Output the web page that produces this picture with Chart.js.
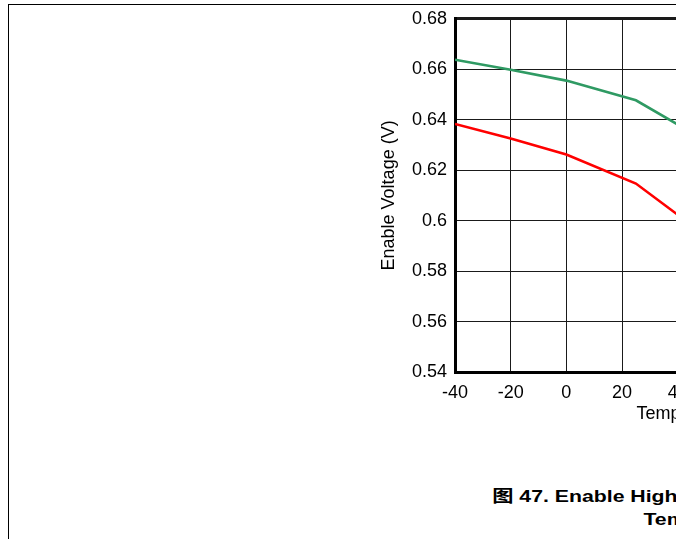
<!DOCTYPE html>
<html><head><meta charset="utf-8">
<script src="https://cdn.jsdelivr.net/npm/chart.js@4/dist/chart.umd.min.js"></script>
<style>
html,body{margin:0;padding:0;width:676px;height:539px;overflow:hidden;background:#fff;}
#frame{position:absolute;left:8px;top:4px;width:1200px;height:700px;border-top:1px solid #000;border-left:1px solid #000;}
#wrap{position:absolute;left:0;top:0;width:1000px;height:440px;}
#cap{position:absolute;left:407px;top:485px;width:600px;text-align:center;font:bold 17px/23px "Liberation Sans",Arial,"Noto Sans CJK SC",sans-serif;color:#000;transform:scaleX(1.25);transform-origin:50% 0;white-space:nowrap;}
#cap1{position:relative;left:-10px;}
</style></head><body>
<div id="frame"></div>
<div id="wrap"><canvas id="c" width="1000" height="440"></canvas></div>
<div id="cap"><div id="cap1">图 47. Enable High Threshold Voltage vs</div><div>Temperature</div></div>
<script>
const temperatures = [-40, -20, 0, 25, 50, 75, 100, 125];
const highThreshold = [0.6638, 0.6598, 0.6555, 0.6477, 0.6317, 0.6170, 0.6020, 0.5870];
const lowThreshold  = [0.6383, 0.6326, 0.6262, 0.6147, 0.5941, 0.5750, 0.5570, 0.5400];
const xTicks = [-40, -20, 0, 20, 40, 60, 80, 100, 120, 140];
const yTicks = [0.54, 0.56, 0.58, 0.6, 0.62, 0.64, 0.66, 0.68];
const xTitle = 'Temperature (°C)';
const yTitle = 'Enable Voltage (V)';

Chart.defaults.font.family = '"Liberation Sans", Arial, sans-serif';
Chart.defaults.color = '#000';

const toPts = vals => temperatures.map((t, i) => ({x: t, y: vals[i]}));
const xMin = xTicks[0], xMax = xTicks[xTicks.length - 1];
const yMin = yTicks[0], yMax = yTicks[yTicks.length - 1];

new Chart(document.getElementById('c'), {
  type: 'line',
  data: {
    datasets: [
      {label: 'High', data: toPts(highThreshold), borderColor: '#2f9a63', borderWidth: 2.6, pointRadius: 0, tension: 0, fill: false},
      {label: 'Low', data: toPts(lowThreshold), borderColor: '#ff0000', borderWidth: 2.6, pointRadius: 0, tension: 0, fill: false}
    ]
  },
  options: {
    responsive: false,
    animation: false,
    events: [],
    layout: {padding: {left: 370, top: 17, right: 44, bottom: 0}},
    plugins: {legend: {display: false}, tooltip: {enabled: false}, title: {display: false}},
    scales: {
      x: {
        type: 'linear', min: xMin, max: xMax,
        afterBuildTicks: s => { s.ticks = xTicks.map(v => ({value: v})); },
        afterFit: s => { s.height = 68; },
        ticks: {font: {size: 18}, padding: 10, maxRotation: 0, autoSkip: false, callback: v => String(v)},
        grid: {color: '#1a1a1a', drawTicks: false, lineWidth: c => (c.tick && c.tick.value === xMax) ? 3 : 1},
        border: {display: true, color: '#000', width: 3},
        title: {display: true, text: xTitle, font: {size: 18}, padding: {top: 0, bottom: 15}}
      },
      y: {
        type: 'linear', min: yMin, max: yMax,
        afterBuildTicks: s => { s.ticks = yTicks.map(v => ({value: v})); },
        afterFit: s => { s.width = 85; },
        ticks: {font: {size: 18}, padding: 8, autoSkip: false, callback: v => String(v)},
        grid: {color: '#1a1a1a', drawTicks: false, lineWidth: c => (c.tick && c.tick.value === yMax) ? 3 : 1},
        border: {display: true, color: '#000', width: 3},
        title: {display: true, text: yTitle, font: {size: 18}, padding: {top: 8, bottom: 0}}
      }
    }
  }
});
</script>
</body></html>
